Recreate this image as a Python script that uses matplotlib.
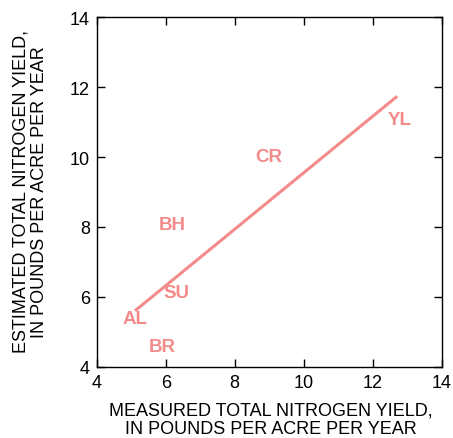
import matplotlib.pyplot as plt

plt.rcParams['font.family'] = ['Liberation Sans', 'DejaVu Sans']

# site labels, measured vs estimated yield
sites = ["YL", "CR", "BH", "SU", "AL", "BR"]
measured = [12.79, 8.99, 6.19, 6.32, 5.11, 5.90]
estimated = [11.07, 10.01, 8.08, 6.13, 5.37, 4.57]

# fitted line end points
line_x = [5.11, 12.71]
line_y = [5.60, 11.74]

pink = "#f48b8b"

fig = plt.figure(figsize=(4.53, 4.39), dpi=100)
ax = fig.add_axes([96.7 / 453, 1 - 367.7 / 439, 345 / 453, 349.4 / 439])

ax.plot(line_x, line_y, color=pink, lw=2.2, solid_capstyle='butt')
for s, x, y in zip(sites, measured, estimated):
    ax.text(x, y, s, color=pink, fontsize=13.5, fontweight='bold',
            ha='center', va='center')

ax.set_xlim(4, 14)
ax.set_ylim(4, 14)
ax.set_xticks([4, 6, 8, 10, 12, 14])
ax.set_yticks([4, 6, 8, 10, 12, 14])
ax.tick_params(direction='in', top=True, right=True, length=6, width=1,
               labelsize=13, pad=5)
for sp in ax.spines.values():
    sp.set_linewidth(1)

ax.set_xlabel("MEASURED TOTAL NITROGEN YIELD,\nIN POUNDS PER ACRE PER YEAR",
              fontsize=13, linespacing=1.08, va='center')
ax.xaxis.set_label_coords((271 - 96.7) / 345, -(420 - 367.7) / 349.4)
ax.set_ylabel("ESTIMATED TOTAL NITROGEN YIELD,\nIN POUNDS PER ACRE PER YEAR",
              fontsize=13, linespacing=1.08, va='center')
ax.yaxis.set_label_coords(-(96.7 - 30) / 345, (367.7 - 192) / 349.4)

fig.savefig("out.png", dpi=100)
